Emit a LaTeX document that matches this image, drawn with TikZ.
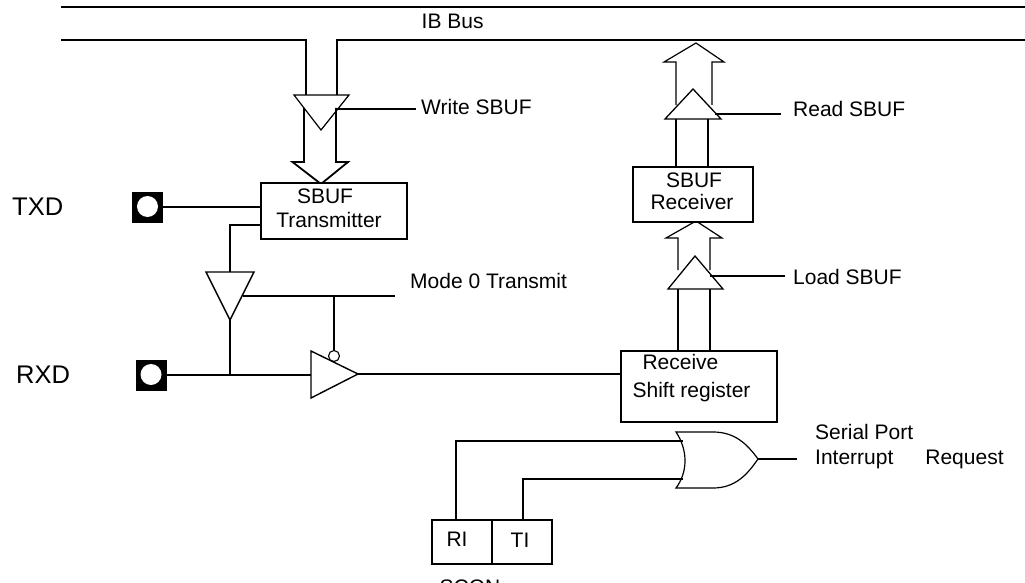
\documentclass[tikz,border=0pt]{standalone}
\usepackage{fontspec}
\setmainfont{Liberation Sans}
\tikzset{
 wire/.style={draw=black,line width=1.8pt},
 thin wire/.style={draw=black,line width=1.2pt},
 lbl/.style={font=\fontsize{21}{22}\selectfont,inner sep=0pt,anchor=west},
 biglbl/.style={font=\fontsize{25.5}{30}\selectfont,inner sep=0pt,anchor=west},
 boxed/.style={draw=black,line width=1.8pt,fill=white,inner sep=0pt},
 pin/.style={fill=black,minimum size=31pt,inner sep=0pt},
 hole/.style={circle,fill=white,minimum size=21pt,inner sep=0pt},
}
\begin{document}
\begin{tikzpicture}[x=1pt,y=-1pt]
\useasboundingbox (0,0) rectangle (1025,583);
\clip (0,0) rectangle (1025,583);
\coordinate (busTL) at (61,7);
\coordinate (busTR) at (1025,7);
\coordinate (busBL) at (61,40);
\coordinate (busBR) at (1025,40);
% IB bus
\draw[wire] (busTL) -- (busTR);
\draw[wire] (busBL) -- (306,40) -- (306,95);
\draw[wire] (337,95) -- (337,40) -- (busBR);
\node[lbl] (ib) at (421.5,21.5) {IB Bus};
% write bus arrow
\draw[wire] (304,108) -- (304,162) -- (292.5,162) -- (321,184) -- (348,162) -- (336,162) -- (336,108);
% write tristate
\draw[thin wire] (294,95) -- (349,95) -- (321,130) -- cycle;
\coordinate (wsEnd) at (416,109);
\draw[wire] (336,109) -- (wsEnd);
\node[lbl] (ws) at (421,107) {Write SBUF};
% SBUF transmitter
\node[boxed,minimum width=146pt,minimum height=56pt] (tx) at (334,211) {};
\node[lbl,anchor=center] (tx1) at (325,196.5) {SBUF};
\node[lbl,anchor=center] (tx2) at (329,220) {Transmitter};
% TXD
\node[biglbl] (txd) at (12,207) {TXD};
\node[pin] (p1) at (147.5,207) {};
\node[hole] (p1c) at (147.5,206.5) {};
\draw[wire] (p1.east) -- (tx.west |- p1.east);
% tx down
\draw[wire] (261,225) -- (230,225) -- (230,272);
% down buffer
\draw[wire,line width=1.4pt] (206,272) -- (254,272) -- (230,320) -- cycle;
\coordinate (modeEnd) at (395,296);
\draw[wire] (243,296) -- (modeEnd);
\node[lbl] (mode) at (410,281) {Mode 0 Transmit};
\draw[wire] (230,320) -- (230,375);
% RXD
\node[biglbl] (rxd) at (16,375) {RXD};
\node[pin] (p2) at (151,375) {};
\node[hole] (p2c) at (151,374.5) {};
\draw[wire] (p2.east) -- (311,375);
% receive buffer
\draw[wire,line width=1.4pt,fill=white] (311,351) -- (358,374) -- (311,398) -- cycle;
\node[circle,draw=black,line width=1.1pt,fill=white,minimum size=11pt,inner sep=0pt] (bub) at (334,356) {};
\draw[wire] (334,296) -- (bub.north);
% shift register
\node[boxed,minimum width=156pt,minimum height=71pt] (sr) at (699,386.5) {};
\coordinate (srIn) at (358,374);
\draw[wire] (srIn) -- (sr.west |- srIn);
\node[lbl,anchor=center] (sr1) at (680.5,362) {Receive};
\node[lbl,anchor=center] (sr2) at (691.5,392) {Shift register};
% load
\draw[wire] (678,289) -- (678,351);
\draw[wire] (710,289) -- (710,351);
\draw[thin wire] (678,270) -- (678,238) -- (666,238) -- (696,221) -- (722,238) -- (710,238) -- (710,270);
\draw[thin wire,line width=1.3pt] (668,289) -- (723,289) -- (695,256) -- cycle;
\coordinate (lsEnd) at (785,276);
\draw[wire] (710,276) -- (lsEnd);
\node[lbl] (ls) at (793,277) {Load SBUF};
% SBUF Receiver
\node[boxed,minimum width=120pt,minimum height=55pt] (rx) at (693,194.5) {};
\node[lbl,anchor=center] (rx1) at (694,180) {SBUF};
\node[lbl,anchor=center] (rx2) at (692,202) {Receiver};
% read
\draw[wire] (676,119) -- (676,167);
\draw[wire] (708,119) -- (708,167);
\draw[thin wire] (676,105) -- (676,62) -- (664,62) -- (696,43) -- (724,62) -- (712,62) -- (712,105);
\draw[thin wire,line width=1.3pt] (665,119) -- (721,119) -- (693,89) -- cycle;
\coordinate (rsEnd) at (781,114);
\draw[wire] (715,114) -- (rsEnd);
\node[lbl] (rs) at (793,108.5) {Read SBUF};
% OR gate
\draw[line width=1.2pt,fill=white] (676,432) .. controls (688,450) and (688,472) .. (676,488) -- (713,488) .. controls (735,488) and (747,475) .. (758,459) .. controls (747,444) and (735,432) .. (713,432) -- cycle;
\coordinate (orOut) at (797,459);
\draw[wire] (758,459) -- (orOut);
\node[lbl] (or1) at (815,431.5) {Serial Port};
\node[lbl] (or2) at (815,459.5) {Interrupt\hspace{32pt}Request};
% RI TI
\node[boxed,minimum width=60pt,minimum height=44pt] (ri) at (462,542) {};
\node[boxed,minimum width=60pt,minimum height=44pt] (ti) at (522,542) {};
\node[lbl,anchor=center] (ritxt) at (457,539) {RI};
\node[lbl,anchor=center] (titxt) at (520,540) {TI};
\draw[wire] (456,520) -- (456,441) -- (683,441);
\draw[wire] (523,520) -- (523,479) -- (683,479);
\node[lbl,anchor=center] (scon) at (470,587) {SCON};
\end{tikzpicture}
\end{document}
